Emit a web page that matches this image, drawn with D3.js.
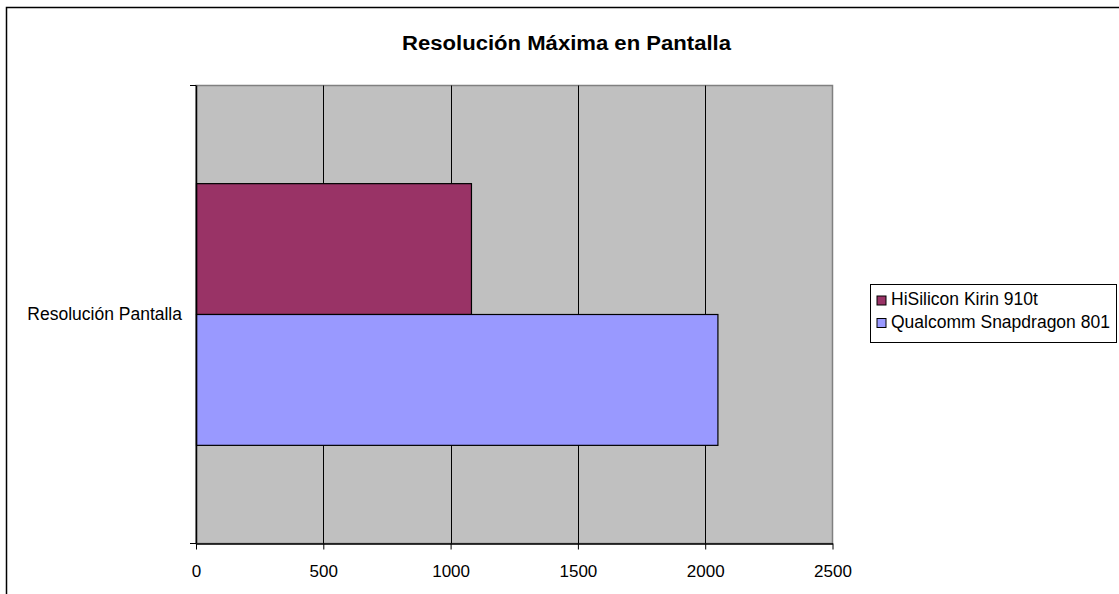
<!DOCTYPE html>
<html>
<head>
<meta charset="utf-8">
<script src="https://cdn.jsdelivr.net/npm/d3@7"></script>
<style>
  body { margin: 0; background: #fff; }
  text { font-family: "Liberation Sans", Arial, sans-serif; fill: #000; }
</style>
</head>
<body>
<script>
const categories = ["Resolución Pantalla"];
const seriesNames = ["HiSilicon Kirin 910t", "Qualcomm Snapdragon 801"];
const seriesValues = [1080, 2048];
const seriesColors = ["#993366", "#9999ff"];
const xTicks = [0, 500, 1000, 1500, 2000, 2500];
const title = "Resolución Máxima en Pantalla";

const width = 1119;
const height = 594;
const plot = { left: 196, right: 832.5, top: 85.5, bottom: 543.5 };

const svg = d3.select("body")
    .append("svg")
    .attr("width", width)
    .attr("height", height);

// chart border (runs off the right and bottom edges)
svg.append("rect")
    .attr("x", 6.5)
    .attr("y", 7.5)
    .attr("width", width + 20)
    .attr("height", height + 20)
    .attr("fill", "#fff")
    .attr("stroke", "#000")
    .attr("stroke-width", 1.5);

svg.append("text")
    .attr("x", 566.5)
    .attr("y", 49.5)
    .attr("text-anchor", "middle")
    .attr("font-size", 20)
    .attr("font-weight", "bold")
    .attr("textLength", 329)
    .attr("lengthAdjust", "spacingAndGlyphs")
    .text(title);

const x = d3.scaleLinear().domain([0, 2500]).range([plot.left, plot.right]);
const yCat = d3.scaleBand().domain(categories).range([plot.top, plot.bottom]);
const ySer = d3.scaleBand().domain(seriesNames)
    .range([0, yCat.bandwidth()])
    .paddingInner(0)
    .paddingOuter(0.75);

// plot area
svg.append("rect")
    .attr("x", plot.left)
    .attr("y", plot.top)
    .attr("width", plot.right - plot.left)
    .attr("height", plot.bottom - plot.top)
    .attr("fill", "#c0c0c0")
    .attr("stroke", "#808080")
    .attr("stroke-width", 1.5);

// gridlines
svg.selectAll(".grid")
    .data(xTicks.slice(1, -1))
    .join("line")
    .attr("class", "grid")
    .attr("x1", d => Math.round(x(d)) + 0.5)
    .attr("x2", d => Math.round(x(d)) + 0.5)
    .attr("y1", plot.top)
    .attr("y2", plot.bottom)
    .attr("stroke", "#000")
    .attr("stroke-width", 1);

// bars
const data = seriesNames.map((s, i) => ({ cat: categories[0], name: s, value: seriesValues[i], color: seriesColors[i] }));
svg.selectAll(".bar")
    .data(data)
    .join("rect")
    .attr("class", "bar")
    .attr("x", x(0) + 0.5)
    .attr("y", d => yCat(d.cat) + ySer(d.name))
    .attr("width", d => x(d.value) - x(0))
    .attr("height", ySer.bandwidth())
    .attr("fill", d => d.color)
    .attr("stroke", "#000")
    .attr("stroke-width", 1.2);

// x axis
const xAxis = d3.axisBottom(x).tickValues(xTicks).tickSize(6).tickSizeOuter(0).tickFormat(d3.format("d"));
const gx = svg.append("g")
    .attr("transform", `translate(0,${plot.bottom})`)
    .call(xAxis);
gx.select(".domain").attr("stroke", "#000").attr("stroke-width", 1.5);
gx.selectAll(".tick line").attr("stroke", "#000");
gx.selectAll(".tick text")
    .attr("y", 33.5)
    .attr("dy", 0)
    .attr("font-size", 17)
    .attr("font-family", "Liberation Sans, Arial, sans-serif")
    .attr("fill", "#000");

// y axis (category)
svg.append("line")
    .attr("x1", plot.left + 0.5)
    .attr("x2", plot.left + 0.5)
    .attr("y1", plot.top)
    .attr("y2", plot.bottom)
    .attr("stroke", "#000")
    .attr("stroke-width", 1.5);
svg.selectAll(".ytick")
    .data([plot.top, plot.bottom])
    .join("line")
    .attr("class", "ytick")
    .attr("x1", plot.left - 6)
    .attr("x2", plot.left)
    .attr("y1", d => d)
    .attr("y2", d => d)
    .attr("stroke", "#000");
svg.selectAll(".ylabel")
    .data(categories)
    .join("text")
    .attr("class", "ylabel")
    .attr("x", 182)
    .attr("y", 320)
    .attr("text-anchor", "end")
    .attr("font-size", 17.5)
    .text(d => d);

// legend
const legend = svg.append("g");
legend.append("rect")
    .attr("x", 870.5)
    .attr("y", 284.5)
    .attr("width", 246)
    .attr("height", 58)
    .attr("fill", "#fff")
    .attr("stroke", "#000")
    .attr("stroke-width", 1);
const items = legend.selectAll(".item")
    .data(data)
    .join("g")
    .attr("class", "item")
    .attr("transform", (d, i) => `translate(877,${296 + i * 22.5})`);
items.append("rect")
    .attr("width", 9)
    .attr("height", 9)
    .attr("fill", d => d.color)
    .attr("stroke", "#000");
items.append("text")
    .attr("x", 14)
    .attr("y", 9)
    .attr("font-size", 17.5)
    .text(d => d.name);
</script>
</body>
</html>
